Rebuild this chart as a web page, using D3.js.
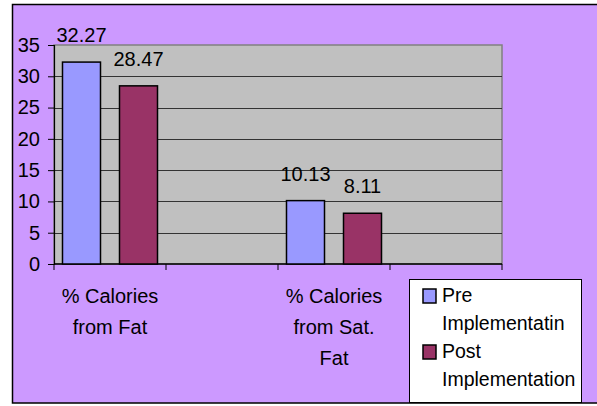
<!DOCTYPE html>
<html>
<head>
<meta charset="utf-8">
<script src="https://cdn.jsdelivr.net/npm/d3@7"></script>
<style>
  html, body { margin: 0; padding: 0; background: #ffffff; }
  svg { display: block; }
  text { font-family: "Liberation Sans", Arial, sans-serif; fill: #000; }
</style>
</head>
<body>
<svg id="chart" width="597" height="406"></svg>
<script>
// Category slots (two empty slots keep the Excel-style spacing)
const categories = ["fat", "gap1", "satfat", "gap2"];
const categoryLabels = [["% Calories", "from Fat"], [], ["% Calories", "from Sat.", "Fat"], []];
const seriesNames = ["Pre Implementatin", "Post Implementation"];
const legendLines = [["Pre", "Implementatin"], ["Post", "Implementation"]];
const preValues = [32.27, null, 10.13, null];
const postValues = [28.47, null, 8.11, null];
const yTicks = [0, 5, 10, 15, 20, 25, 30, 35];

const colors = ["#9999FF", "#993366"];
const svg = d3.select("#chart");

// Chart background panel
svg.append("rect")
  .attr("x", 12.5).attr("y", 4.5)
  .attr("width", 600).attr("height", 398.5)
  .attr("fill", "#CC99FF")
  .attr("stroke", "#000").attr("stroke-width", 1.5);

const plot = { left: 54, top: 45, right: 502, bottom: 264 };

const x = d3.scaleBand().domain(categories).range([plot.left, plot.right]).padding(0);
const xs = d3.scaleBand().domain(seriesNames).range([0, x.bandwidth()])
  .paddingInner(1 / 3).paddingOuter(0.149);
const y = d3.scaleLinear().domain([0, 35]).range([plot.bottom, plot.top]);

// Plot area
svg.append("rect")
  .attr("x", plot.left).attr("y", plot.top)
  .attr("width", plot.right - plot.left).attr("height", plot.bottom - plot.top)
  .attr("fill", "#C0C0C0")
  .attr("stroke", "#808080").attr("stroke-width", 1.5);

// Horizontal gridlines
svg.append("g").selectAll("line")
  .data(yTicks.filter(t => t > 0 && t < 35))
  .join("line")
  .attr("x1", plot.left).attr("x2", plot.right)
  .attr("y1", d => Math.round(y(d)) + 0.5).attr("y2", d => Math.round(y(d)) + 0.5)
  .attr("stroke", "#333").attr("stroke-width", 1);

// Y axis
const yAxis = svg.append("g")
  .attr("transform", `translate(${plot.left},0)`)
  .call(d3.axisLeft(y).tickValues(yTicks).tickSize(6).tickPadding(8).tickFormat(d3.format("d")));
yAxis.select(".domain").attr("stroke", "#000").attr("stroke-width", 1.2);
yAxis.selectAll(".tick line").attr("stroke", "#000");
yAxis.selectAll(".tick text").attr("font-size", 20).attr("font-family", "Liberation Sans, Arial, sans-serif").attr("fill", "#000");

// X axis line with ticks at category boundaries
const xAxis = svg.append("g");
xAxis.append("line")
  .attr("x1", plot.left).attr("x2", plot.right)
  .attr("y1", plot.bottom).attr("y2", plot.bottom)
  .attr("stroke", "#000").attr("stroke-width", 1.5);
const bounds = categories.map(c => x(c)).concat([x(categories[categories.length - 1]) + x.bandwidth()]);
xAxis.selectAll("line.tk").data(bounds).join("line")
  .attr("class", "tk")
  .attr("x1", d => d).attr("x2", d => d)
  .attr("y1", plot.bottom).attr("y2", plot.bottom + 6)
  .attr("stroke", "#000");

// Bars
const seriesData = [preValues, postValues];
seriesData.forEach((vals, si) => {
  const g = svg.append("g");
  const data = categories.map((c, i) => ({ c, v: vals[i] })).filter(d => d.v != null);
  g.selectAll("rect").data(data).join("rect")
    .attr("x", d => x(d.c) + xs(seriesNames[si]))
    .attr("y", d => y(d.v))
    .attr("width", xs.bandwidth())
    .attr("height", d => y(0) - y(d.v))
    .attr("fill", colors[si])
    .attr("stroke", "#000").attr("stroke-width", 1.5);
  g.selectAll("text").data(data).join("text")
    .attr("x", d => x(d.c) + xs(seriesNames[si]) + xs.bandwidth() / 2)
    .attr("y", d => y(d.v) - 20)
    .attr("text-anchor", "middle")
    .attr("font-size", 20)
    .text(d => d3.format(".2f")(d.v));
});

// Category labels
categories.forEach((c, i) => {
  categoryLabels[i].forEach((line, li) => {
    svg.append("text")
      .attr("x", x(c) + x.bandwidth() / 2)
      .attr("y", 303 + li * 31)
      .attr("text-anchor", "middle")
      .attr("font-size", 20)
      .text(line);
  });
});

// Legend
const legend = svg.append("g");
legend.append("rect")
  .attr("x", 409.5).attr("y", 279.5)
  .attr("width", 172).attr("height", 123)
  .attr("fill", "#fff").attr("stroke", "#000").attr("stroke-width", 1);
seriesNames.forEach((s, i) => {
  const top = 289 + i * 56;
  legend.append("rect")
    .attr("x", 423).attr("y", top)
    .attr("width", 13).attr("height", 14)
    .attr("fill", colors[i]).attr("stroke", "#000").attr("stroke-width", 1.5);
  legendLines[i].forEach((line, li) => {
    legend.append("text")
      .attr("x", 442)
      .attr("y", top + 13 + li * 28)
      .attr("font-size", 19.5)
      .text(line);
  });
});
</script>
</body>
</html>
